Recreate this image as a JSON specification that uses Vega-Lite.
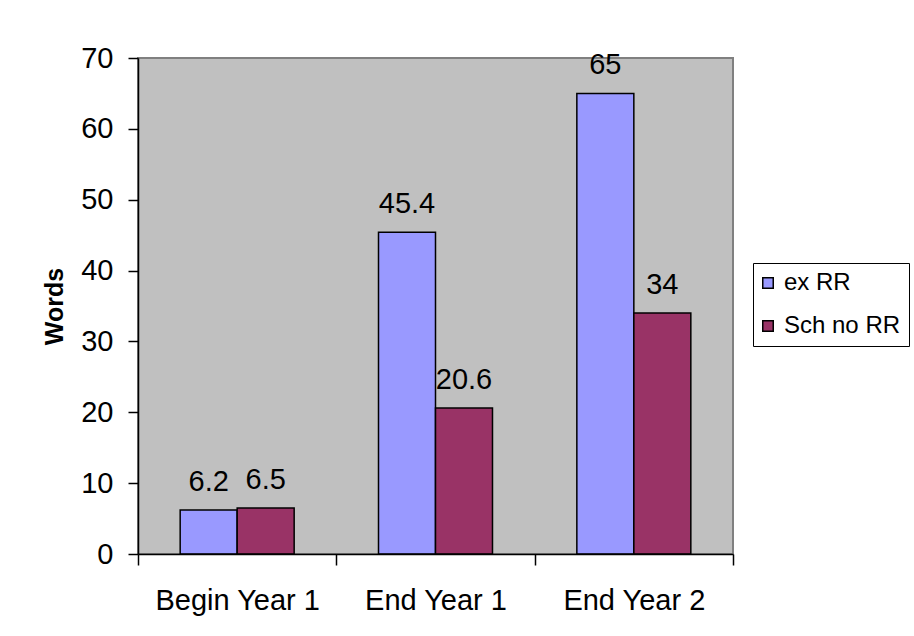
{
  "$schema": "https://vega.github.io/schema/vega-lite/v6.json",
  "width": 595,
  "height": 496,
  "autosize": {"type": "none"},
  "padding": {"left": 138, "top": 58, "right": 181, "bottom": 82},
  "background": "white",
  "config": {
    "font": "Liberation Sans",
    "view": {"fill": "#C0C0C0", "stroke": "#808080", "strokeWidth": 2}
  },
  "data": {
    "values": [
      {"period": "Begin Year 1", "group": "ex RR", "words": 6.2},
      {"period": "Begin Year 1", "group": "Sch no RR", "words": 6.5},
      {"period": "End Year 1", "group": "ex RR", "words": 45.4},
      {"period": "End Year 1", "group": "Sch no RR", "words": 20.6},
      {"period": "End Year 2", "group": "ex RR", "words": 65},
      {"period": "End Year 2", "group": "Sch no RR", "words": 34}
    ]
  },
  "encoding": {
    "x": {
      "field": "period",
      "type": "nominal",
      "sort": null,
      "scale": {"paddingInner": 0, "paddingOuter": 0},
      "axis": {
        "title": null,
        "labelAngle": 0,
        "labelFontSize": 29,
        "labelColor": "black",
        "labelPadding": 21,
        "tickBand": "extent",
        "tickSize": 11,
        "tickWidth": 1.5,
        "tickColor": "black",
        "domainColor": "black",
        "domainWidth": 1.5,
        "grid": false,
        "zindex": 1
      }
    },
    "xOffset": {
      "field": "group",
      "type": "nominal",
      "sort": ["ex RR", "Sch no RR"],
      "scale": {"paddingInner": 0, "paddingOuter": 0.74}
    },
    "y": {
      "field": "words",
      "type": "quantitative",
      "scale": {"domain": [0, 70], "nice": false},
      "axis": {
        "title": "Words",
        "titleFontSize": 25,
        "titleFontWeight": "bold",
        "titleColor": "black",
        "titlePadding": 13,
        "values": [0, 10, 20, 30, 40, 50, 60, 70],
        "labelFontSize": 29,
        "labelColor": "black",
        "labelPadding": 15,
        "tickSize": 10,
        "tickWidth": 1.5,
        "tickColor": "black",
        "domainColor": "black",
        "domainWidth": 1.5,
        "grid": false,
        "zindex": 1
      }
    }
  },
  "layer": [
    {
      "mark": {"type": "bar", "stroke": "black", "strokeWidth": 1.5},
      "encoding": {
        "color": {
          "field": "group",
          "type": "nominal",
          "scale": {"domain": ["ex RR", "Sch no RR"], "range": ["#9999FF", "#993366"]},
          "legend": {
            "title": null,
            "orient": "none",
            "legendX": 615,
            "legendY": 205,
            "direction": "vertical",
            "strokeColor": "black",
            "fillColor": "white",
            "padding": 8,
            "symbolType": "square",
            "symbolSize": 110,
            "symbolStrokeColor": "black",
            "symbolStrokeWidth": 1.5,
            "symbolOpacity": 1,
            "symbolOffset": -5,
            "labelFontSize": 24,
            "labelColor": "black",
            "labelOffset": 4,
            "labelLimit": 200,
            "rowPadding": 19
          }
        }
      }
    },
    {
      "mark": {"type": "text", "dy": -19, "baseline": "alphabetic", "fontSize": 29, "color": "black"},
      "encoding": {"text": {"field": "words", "type": "nominal"}}
    }
  ]
}
